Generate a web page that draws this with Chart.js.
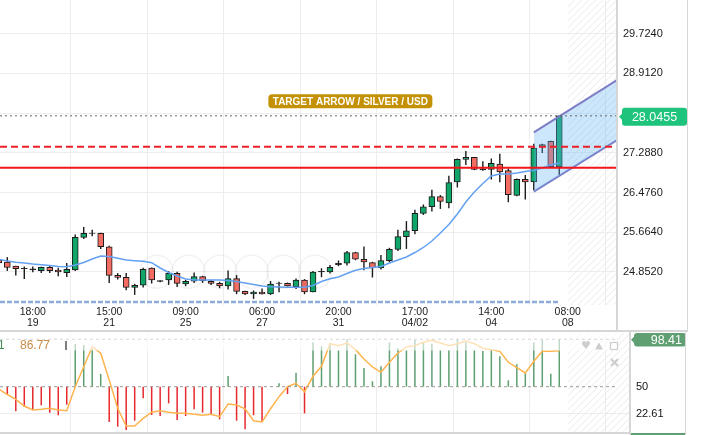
<!DOCTYPE html>
<html><head><meta charset="utf-8">
<script src="https://cdn.jsdelivr.net/npm/chart.js@4.4.1/dist/chart.umd.min.js"></script>
<style>
html,body{margin:0;padding:0;background:#fff;width:707px;height:435px;overflow:hidden;}
#wrap{position:relative;width:707px;height:435px;}
canvas{position:absolute;left:0;}
.ln{position:absolute;background:#d6d6d6;}
</style></head><body>
<div id="wrap">
<canvas id="main" width="707" height="331" style="top:0;width:707px;height:331px"></canvas>
<canvas id="osc" width="707" height="104" style="top:331px;width:707px;height:104px"></canvas>
<div class="ln" style="left:616px;top:0;width:2px;height:331px"></div>
<div class="ln" style="left:0;top:330px;width:688px;height:2px"></div>
<div class="ln" style="left:629px;top:331px;width:2px;height:104px"></div>
<div class="ln" style="left:0;top:432px;width:630px;height:2px"></div>
<div class="ln" style="left:687px;top:0;width:1px;height:331px"></div>
<div class="ln" style="left:685px;top:331px;width:1px;height:104px"></div>
</div>
<script>
// ---- data (slot index of first candle = xStart) ----
const xStart = -1;
const openP = [25.100,25.056,24.974,24.919,24.919,24.878,24.948,24.893,24.838,24.893,25.561,25.643,25.643,25.369,24.784,24.743,24.539,24.580,24.934,24.674,24.688,24.825,24.607,24.662,24.756,24.662,24.620,24.565,24.715,24.457,24.402,24.443,24.402,24.620,24.620,24.551,24.688,24.443,24.852,24.852,25.001,25.030,25.247,25.112,25.042,24.934,25.083,25.316,25.574,25.696,26.052,26.187,26.392,26.263,26.692,27.156,27.197,26.964,26.952,27.060,26.924,26.420,26.747,26.692,27.414,27.525,27.005];
const highP = [25.120,25.152,24.974,24.960,24.960,24.955,24.974,24.934,25.030,25.614,25.766,25.711,25.650,25.383,24.825,24.825,24.606,24.934,24.940,24.680,24.866,24.852,24.688,24.838,24.770,24.688,24.647,24.878,24.784,24.463,24.469,24.511,24.662,24.647,24.633,24.715,24.702,24.866,24.923,24.989,25.083,25.275,25.260,25.369,25.056,25.193,25.343,25.711,25.888,26.120,26.228,26.529,26.420,26.815,27.169,27.320,27.200,27.115,27.169,27.265,26.964,26.760,26.829,27.469,27.469,27.530,28.050];
const lowP = [25.010,24.878,24.784,24.715,24.852,24.838,24.838,24.770,24.756,24.878,25.533,25.588,25.328,24.633,24.702,24.484,24.387,24.539,24.620,24.645,24.592,24.551,24.565,24.633,24.633,24.592,24.524,24.498,24.402,24.387,24.306,24.395,24.387,24.443,24.560,24.510,24.402,24.440,24.750,24.825,24.974,24.989,25.097,24.893,24.743,24.907,25.056,25.287,25.328,25.629,26.023,26.093,26.146,26.160,26.584,27.046,26.938,26.924,26.747,26.692,26.283,26.406,26.338,26.529,27.291,26.993,26.842];
const closeP = [25.035,24.948,24.919,24.925,24.893,24.948,24.878,24.852,24.907,25.561,25.643,25.650,25.369,24.784,24.743,24.539,24.580,24.907,24.688,24.660,24.825,24.620,24.662,24.756,24.674,24.620,24.565,24.715,24.457,24.402,24.443,24.402,24.607,24.625,24.565,24.688,24.443,24.852,24.866,24.948,25.030,25.247,25.112,25.056,24.934,25.083,25.316,25.574,25.696,26.052,26.187,26.392,26.297,26.678,27.156,27.197,26.952,26.938,27.075,26.897,26.432,26.747,26.692,27.388,27.455,27.005,28.0455];
const maLine = [25.11,25.077,25.052,25.036,25.015,24.999,24.985,24.966,24.960,24.995,25.046,25.118,25.179,25.169,25.132,25.097,25.083,25.070,25.042,24.934,24.841,24.770,24.708,24.688,24.688,24.688,24.688,24.678,24.657,24.627,24.596,24.565,24.551,24.545,24.539,24.539,24.539,24.575,24.657,24.713,24.749,24.821,24.888,24.923,24.944,24.964,25.036,25.097,25.158,25.250,25.353,25.485,25.649,25.823,26.038,26.283,26.488,26.661,26.815,26.856,26.856,26.876,26.907,26.932,26.978,27.040,27.081];
const oscBars = [45,42.5,24.9,29.6,26.9,31.0,23.5,20.8,31.6,93.6,92.6,88.2,63.0,14.0,9.2,5.8,15.3,38.2,21.1,20.1,33.0,16.0,20.1,26.9,23.5,22.1,16.7,60.9,15.3,6.5,20.8,14.7,50.5,53.5,42.5,64.3,22.8,95.3,91.2,94.6,87.2,98.4,83.1,69.1,55.5,70.8,95.3,89.2,87.2,98.0,95.3,93.9,87.2,87.2,98.4,95.3,87.2,86.5,88.6,81.0,56.5,72.9,64.0,95.3,98.4,63.3,98.4];
const oscLine = [47.5,42.0,37.1,30.3,26.2,26.9,27.9,26.2,25.5,50.0,70.4,90.8,84.1,56.8,27.9,9.9,9.9,17.7,23.9,25.5,23.9,22.8,22.8,21.8,20.8,21.8,19.4,32.3,31.3,27.5,15.3,14.0,27.5,39.8,50.0,53.5,44.9,60.6,70.8,93.9,91.9,94.6,87.8,78.3,70.1,64.7,74.9,84.4,90.5,91.9,95.3,97.4,94.6,91.9,93.9,96.7,93.9,89.2,87.8,86.1,74.9,69.4,64.0,75.9,86.1,86.1,86.77];
const priceTicks = [24.852,25.664,26.476,27.288,28.100,28.912,29.724];
const labelSlots = [3,12,21,30,39,48,57,66];
const timeLabels = ['18:00','15:00','09:00','06:00','20:00','17:00','14:00','08:00'];
const dayLabels = ['19','21','25','27','31','04/02','04','08'];
const lastPrice = 28.0455;
const supportLevel = 26.984;
const resistLevel = 27.414;
const channelSlots = [62, 71.8];
const channelUpper = [27.709, 28.778];
const channelLower = [26.494, 27.551];
const oscLevels = [98.41, 50];
const oscTicks = [22.61, 50];
const oscMaxLabel = '98.41';
const oscLegend = '86.77';
const titleText = 'TARGET ARROW / SILVER / USD';
const titleAnchor = {slot: 40.4, price: 28.342};

// ---- view ranges ----
const X_MIN = -0.86, X_MAX_MAIN = 71.8, X_MAX_OSC = 73.21;
const Y_MIN = 24.177, Y_MAX = 30.414;
const O_MIN = 3.75, O_MAX = 104.8;
const FONT = "'Liberation Sans', Arial, sans-serif";

const idx = i => i + xStart;
const bodyColor = i => { const d = closeP[i] - openP[i]; return Math.abs(d) < 0.035 ? '#1b1b1b' : (d > 0 ? '#10a66a' : '#f36c63'); };
const spanLine = (v, xmax) => [{x: X_MIN, y: v}, {x: xmax, y: v}];

function hatch(ctx, x0, y0, x1, y1) {
  ctx.save(); ctx.beginPath(); ctx.rect(x0, y0, x1 - x0, y1 - y0); ctx.clip();
  ctx.strokeStyle = '#e9e9e9'; ctx.lineWidth = 1;
  const h = y1 - y0;
  for (let t = x0 - h; t < x1; t += 7) { ctx.beginPath(); ctx.moveTo(t, y1); ctx.lineTo(t + h, y0); ctx.stroke(); }
  ctx.restore();
}
function badge(ctx, x, yc, w, h, color, text, font, align) {
  ctx.save();
  ctx.fillStyle = color;
  ctx.beginPath(); ctx.roundRect(x + 3, yc - h / 2, w - 3, h, 3); ctx.fill();
  ctx.beginPath(); ctx.moveTo(x, yc); ctx.lineTo(x + 4, yc - 4); ctx.lineTo(x + 4, yc + 4); ctx.closePath(); ctx.fill();
  ctx.fillStyle = '#fff'; ctx.font = font; ctx.textBaseline = 'middle';
  if (align === 'right') { ctx.textAlign = 'right'; ctx.fillText(text, x + w - 4, yc + 0.5); }
  else { ctx.textAlign = 'center'; ctx.fillText(text, x + (w + 3) / 2, yc + 0.5); }
  ctx.restore();
}

const mainDeco = {
  id: 'mainDeco',
  beforeDatasetsDraw(chart) {
    const {ctx, chartArea: a, scales: {x}} = chart;
    hatch(ctx, x.getPixelForValue(labelSlots[labelSlots.length - 1]), a.top, a.right, a.bottom);
  },
  afterDatasetsDraw(chart) {
    const {ctx, chartArea: a, scales: {x, y}} = chart;
    ctx.save();
    // faint navigation buttons
    ctx.strokeStyle = 'rgba(0,0,0,0.05)'; ctx.lineWidth = 1.5;
    for (let i = 0; i < 6; i++) { ctx.beginPath(); ctx.arc(156.7 + 31.7 * i, 271.7, 16.5, 0, Math.PI * 2); ctx.stroke(); }
    // bottom range bar
    ctx.strokeStyle = '#8fabdc'; ctx.lineWidth = 2.5; ctx.setLineDash([5, 2]);
    ctx.beginPath(); ctx.moveTo(a.left, a.bottom - 3); ctx.lineTo(x.getPixelForValue(idx(openP.length - 1)), a.bottom - 3); ctx.stroke();
    ctx.setLineDash([]);
    // title label
    const cx = x.getPixelForValue(titleAnchor.slot), cy = y.getPixelForValue(titleAnchor.price);
    ctx.font = 'bold 10px ' + FONT;
    const tw = ctx.measureText(titleText).width;
    const w = Math.max(164, tw + 8);
    ctx.fillStyle = '#c49105';
    ctx.beginPath(); ctx.roundRect(cx - w / 2, cy - 7, w, 14, 4); ctx.fill();
    ctx.fillStyle = '#fff'; ctx.textAlign = 'center'; ctx.textBaseline = 'middle';
    ctx.fillText(titleText, cx, cy + 0.5);
    ctx.restore();
  },
  afterDraw(chart) {
    const {ctx, chartArea: a, scales: {y}} = chart;
    badge(ctx, a.right + 2, y.getPixelForValue(lastPrice) + 1, 68, 18, '#1ec47b', lastPrice.toFixed(4), '12.5px ' + FONT, 'center');
  }
};

new Chart(document.getElementById('main'), {
  type: 'bar',
  data: { datasets: [
    {type: 'bar', data: openP.map((_, i) => ({x: idx(i), y: [lowP[i], highP[i]]})), backgroundColor: '#1b1b1b', barThickness: 1, inflateAmount: 0.2, grouped: false, order: 6},
    {type: 'bar', data: openP.map((o, i) => ({x: idx(i), y: [o, closeP[i]]})), backgroundColor: openP.map((_, i) => bodyColor(i)), borderColor: '#1b1b1b', borderWidth: 1, borderSkipped: false, barThickness: 6, grouped: false, order: 5},
    {type: 'line', data: maLine.map((v, i) => ({x: idx(i), y: v})), borderColor: '#63a1f2', borderWidth: 1.5, pointRadius: 0, tension: 0, order: 4},
    {type: 'line', data: channelSlots.map((s, i) => ({x: s, y: channelUpper[i]})), borderColor: '#7d7cc6', borderWidth: 2, pointRadius: 0, fill: '+1', backgroundColor: 'rgba(100,180,245,0.33)', order: 3},
    {type: 'line', data: channelSlots.map((s, i) => ({x: s, y: channelLower[i]})), borderColor: '#7d7cc6', borderWidth: 2, pointRadius: 0, fill: false, order: 3},
    {type: 'line', data: spanLine(lastPrice, X_MAX_MAIN), borderColor: '#666', borderWidth: 1, borderDash: [2, 3], pointRadius: 0, order: 2},
    {type: 'line', data: spanLine(resistLevel, X_MAX_MAIN), borderColor: '#ec2027', borderWidth: 2, borderDash: [7, 4], pointRadius: 0, order: 1},
    {type: 'line', data: spanLine(supportLevel, X_MAX_MAIN), borderColor: '#f2161b', borderWidth: 2, pointRadius: 0, order: 1}
  ]},
  options: {
    responsive: false, animation: false, devicePixelRatio: 1,
    layout: {padding: 0},
    plugins: {legend: {display: false}, tooltip: {enabled: false}},
    scales: {
      x: {type: 'linear', min: X_MIN, max: X_MAX_MAIN, offset: false,
        grid: {color: '#ededed', drawTicks: false}, border: {display: false},
        ticks: {autoSkip: false, maxRotation: 0, padding: 2, color: '#222', font: {family: FONT, size: 10.5, lineHeight: 1}, callback: (v, i) => [timeLabels[i], dayLabels[i]]},
        afterBuildTicks: s => { s.ticks = labelSlots.map(v => ({value: v})); },
        afterFit: s => { s.height = 26; s.paddingLeft = 0; s.paddingRight = 0; }},
      y: {type: 'linear', position: 'right', min: Y_MIN, max: Y_MAX,
        grid: {color: '#ededed', drawTicks: false}, border: {display: false},
        ticks: {padding: 6, color: '#1a1a1a', font: {family: FONT, size: 11}, callback: v => Number(v).toFixed(4)},
        afterBuildTicks: s => { s.ticks = priceTicks.map(v => ({value: v})); },
        afterFit: s => { s.width = 90; s.paddingTop = 0; s.paddingBottom = 0; }}
    }
  },
  plugins: [mainDeco]
});

const oscDeco = {
  id: 'oscDeco',
  beforeDatasetsDraw(chart) {
    const {ctx, chartArea: a, scales: {x}} = chart;
    hatch(ctx, x.getPixelForValue(labelSlots[labelSlots.length - 1]), a.top, a.right, a.bottom);
  },
  afterDatasetsDraw(chart) {
    const {ctx, chartArea: a, scales: {x}} = chart;
    ctx.save();
    const right = x.getPixelForValue(X_MAX_MAIN);
    ctx.fillStyle = 'rgba(255,255,255,0.6)';
    ctx.fillRect(a.left, a.top, right - a.left, 19.5 - a.top);
    ctx.textBaseline = 'middle'; ctx.textAlign = 'left';
    ctx.font = '12px ' + FONT;
    ctx.fillStyle = '#3f8d57'; ctx.fillText('1', -2, 14.5);
    ctx.fillStyle = '#c98a45'; ctx.fillText(oscLegend, 20, 14.5);
    ctx.fillStyle = '#000'; ctx.fillRect(65.5, 10, 1, 9);
    // panel icons
    ctx.fillStyle = '#cdcdcd'; ctx.strokeStyle = '#cdcdcd'; ctx.lineWidth = 1.2;
    ctx.font = '11px "DejaVu Sans"'; ctx.fillText('\u2665', 581, 15);
    ctx.beginPath(); ctx.moveTo(595, 18.5); ctx.lineTo(599, 11.5); ctx.lineTo(603, 18.5); ctx.closePath(); ctx.fill();
    ctx.strokeRect(610.5, 11.5, 7, 7);
    ctx.lineWidth = 2.2;
    ctx.beginPath(); ctx.moveTo(611, 28); ctx.lineTo(618, 35); ctx.moveTo(618, 28); ctx.lineTo(611, 35); ctx.stroke();
    ctx.restore();
  },
  afterDraw(chart) {
    const {ctx, chartArea: a, scales: {y}} = chart;
    badge(ctx, a.right + 2, y.getPixelForValue(Number(oscMaxLabel)) + 0.5, 55, 13.5, '#5f9f72', oscMaxLabel, '12.5px ' + FONT, 'right');
    ctx.fillStyle = '#5f9f72'; ctx.fillRect(a.right + 2, 102, 54, 2);
  }
};

new Chart(document.getElementById('osc'), {
  type: 'bar',
  data: { datasets: [
    {type: 'bar', data: oscBars.map((v, i) => ({x: idx(i), y: [50, v]})), backgroundColor: oscBars.map(v => v >= 50 ? '#5e9e71' : '#e5292d'), barThickness: 1.5, inflateAmount: 0, grouped: false, order: 3},
    {type: 'line', data: oscLine.map((v, i) => ({x: idx(i), y: v})), borderColor: '#ffb44e', borderWidth: 1.5, pointRadius: 0, tension: 0, order: 2},
    {type: 'line', data: spanLine(oscLevels[0], X_MAX_MAIN), borderColor: '#9a9a9a', borderWidth: 1, borderDash: [3, 3], pointRadius: 0, order: 1},
    {type: 'line', data: spanLine(oscLevels[1], X_MAX_MAIN), borderColor: '#9a9a9a', borderWidth: 1, borderDash: [3, 3], pointRadius: 0, order: 1}
  ]},
  options: {
    responsive: false, animation: false, devicePixelRatio: 1,
    layout: {padding: {top: 2, bottom: 3, left: 0, right: 0}},
    plugins: {legend: {display: false}, tooltip: {enabled: false}},
    scales: {
      x: {type: 'linear', min: X_MIN, max: X_MAX_OSC, offset: false,
        grid: {color: '#ededed', drawTicks: false}, border: {display: false},
        ticks: {display: false},
        afterBuildTicks: s => { s.ticks = labelSlots.map(v => ({value: v})); },
        afterFit: s => { s.height = 0; s.paddingLeft = 0; s.paddingRight = 0; }},
      y: {type: 'linear', position: 'right', min: O_MIN, max: O_MAX,
        grid: {color: c => (c.tick && c.tick.value === 50) ? 'rgba(0,0,0,0)' : '#ededed', drawTicks: false}, border: {display: false},
        ticks: {padding: 7, color: '#111', font: {family: FONT, size: 11}, callback: v => String(v)},
        afterBuildTicks: s => { s.ticks = oscTicks.map(v => ({value: v})); },
        afterFit: s => { s.width = 78; s.paddingTop = 0; s.paddingBottom = 0; }}
    }
  },
  plugins: [oscDeco]
});
</script>
</body></html>
